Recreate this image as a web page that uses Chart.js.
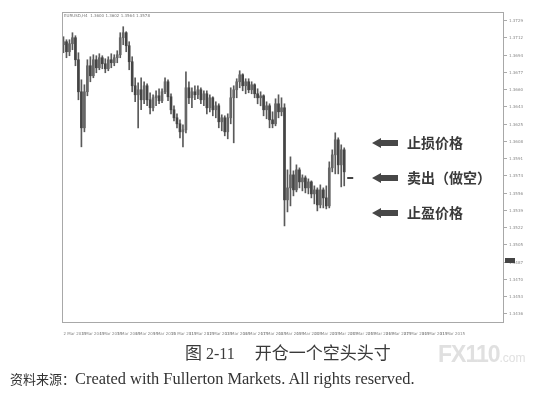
<!DOCTYPE html>
<html>
<head>
<meta charset="utf-8">
<script src="https://cdn.jsdelivr.net/npm/chart.js@4.4.1/dist/chart.umd.min.js"></script>
<style>
html, body { margin: 0; padding: 0; background: #fff; }
#wrap { position: relative; width: 552px; height: 400px; overflow: hidden; background: #fff; }
#chart { position: absolute; left: 0; top: 0; }
.caption { position: absolute; left: 185px; top: 339px; font-family: "Liberation Serif", "Noto Sans CJK SC", serif; font-size: 16px; color: #3a3a3a; white-space: nowrap; }
.caption .cn { font-family: "Noto Sans CJK SC", serif; font-size: 17px; }
.caption .gap { display: inline-block; width: 20px; }
.source { position: absolute; left: 10px; top: 369px; font-family: "Liberation Serif", serif; font-size: 16.4px; color: #333; white-space: nowrap; }
.source .cn { font-family: "Noto Sans CJK SC", serif; font-size: 13px; }
.mark { position: absolute; left: 438px; top: 341px; font-family: "Liberation Sans", Arial, sans-serif; color: #e0e0e0; white-space: nowrap; }
.mark b { font-size: 23px; font-weight: 900; letter-spacing: -1px; }
.mark span { font-size: 12px; }
</style>
</head>
<body>
<div id="wrap">
  <canvas id="chart" width="552" height="400"></canvas>
  <div class="caption"><span class="cn">图</span> 2-11<span class="gap"></span><span class="cn">开仓一个空头头寸</span></div>
  <div class="source"><span class="cn">资料来源：</span>Created with Fullerton Markets. All rights reserved.</div>
  <div class="mark"><b>FX110</b><span>.com</span></div>
</div>
<script>
// Candles (price in pips, 13600 = 1.3600)
const opens  = [13705,13708,13698,13706,13712,13690,13658,13622,13658,13684,13674,13690,13682,13692,13686,13681,13690,13687,13692,13695,
                13712,13717,13704,13688,13664,13655,13660,13650,13664,13650,13642,13652,13654,13649,13658,13668,13653,13640,13632,13626,
                13618,13620,13662,13652,13658,13655,13660,13650,13656,13642,13652,13640,13644,13628,13632,13618,13632,13652,13660,13668,
                13675,13664,13668,13660,13665,13656,13652,13654,13640,13644,13630,13626,13646,13638,13642,13550,13562,13575,13560,13580,
                13568,13572,13562,13568,13556,13560,13545,13560,13552,13544,13582,13595,13610,13585,13600];
const highs  = [13713,13710,13710,13717,13714,13697,13670,13665,13690,13693,13695,13694,13696,13694,13691,13693,13696,13695,13699,13717,
                13723,13718,13708,13693,13672,13667,13672,13668,13666,13657,13655,13659,13661,13661,13672,13670,13656,13644,13636,13630,
                13625,13678,13668,13662,13664,13664,13662,13659,13659,13655,13653,13648,13646,13635,13634,13636,13662,13664,13671,13679,
                13676,13671,13671,13668,13666,13661,13658,13655,13648,13646,13638,13651,13655,13652,13646,13580,13593,13579,13585,13582,
                13575,13574,13571,13569,13564,13562,13565,13562,13564,13588,13600,13617,13612,13605,13602];
const lows   = [13697,13692,13694,13700,13684,13650,13603,13618,13654,13668,13672,13677,13680,13681,13677,13679,13682,13684,13687,13692,
                13705,13698,13680,13658,13648,13622,13640,13646,13644,13636,13639,13644,13646,13647,13656,13649,13636,13629,13622,13612,
                13603,13617,13646,13642,13650,13651,13646,13644,13636,13638,13634,13632,13622,13619,13614,13611,13626,13607,13652,13662,
                13659,13656,13657,13656,13652,13646,13644,13634,13631,13622,13622,13624,13632,13634,13524,13538,13544,13554,13558,13562,
                13559,13557,13556,13552,13546,13539,13542,13542,13541,13542,13578,13576,13576,13563,13564];
const closes = [13708,13698,13706,13712,13690,13658,13622,13658,13684,13674,13690,13682,13692,13686,13681,13690,13687,13692,13695,13712,
                13717,13704,13688,13664,13655,13660,13650,13664,13650,13642,13652,13654,13649,13658,13668,13653,13640,13632,13626,13618,
                13620,13662,13652,13658,13655,13660,13650,13656,13642,13652,13640,13644,13628,13632,13618,13632,13652,13660,13668,13675,
                13664,13668,13660,13665,13656,13652,13654,13640,13644,13630,13626,13646,13638,13642,13550,13562,13575,13560,13580,13568,
                13572,13562,13568,13556,13560,13545,13560,13552,13544,13582,13595,13610,13585,13600,13578];

// Axis ticks
const yTickValues = [13436,13453,13470,13487,13505,13522,13539,13556,13574,13591,13608,13625,13643,13660,13677,13694,13712,13729];
const xTickLabels = ['2 Mar 2015','3 Mar 2015','4 Mar 2015','5 Mar 2015','6 Mar 2015','9 Mar 2015','10 Mar 2015','11 Mar 2015',
                     '12 Mar 2015','13 Mar 2015','16 Mar 2015','17 Mar 2015','18 Mar 2015','19 Mar 2015','20 Mar 2015','23 Mar 2015',
                     '24 Mar 2015','25 Mar 2015','26 Mar 2015','27 Mar 2015','30 Mar 2015','31 Mar 2015'];
const slotCount = 148;

// Trade levels
const levelLabels = ['止损价格', '卖出（做空）', '止盈价格'];
const levelPrices = [13607, 13572, 13537];
const axisMarker = 13490;
const headerText = 'EURUSD,H4  1.3600 1.3602 1.3564 1.3578';

const wickData = lows.map((l, i) => ({ x: i, y: [l, highs[i]] }));
const bodyData = opens.map((o, i) => ({ x: i, y: [o, closes[i]] }));

const overlay = {
  id: 'overlay',
  afterDraw(chart) {
    const ctx = chart.ctx;
    const a = chart.chartArea;
    const y = chart.scales.y;
    const x = chart.scales.x;
    ctx.save();
    // frame
    ctx.strokeStyle = '#a8a8a8';
    ctx.lineWidth = 1;
    ctx.strokeRect(a.left + 0.5, a.top + 0.5, a.right - a.left - 1, a.bottom - a.top - 1);
    // header
    ctx.fillStyle = '#777';
    ctx.font = '4px "DejaVu Sans"';
    ctx.textBaseline = 'middle';
    ctx.fillText(headerText, a.left + 2, a.top + 4);
    // arrows + labels
    levelPrices.forEach((p, k) => {
      const py = Math.round(y.getPixelForValue(p));
      ctx.fillStyle = '#474747';
      ctx.beginPath();
      ctx.moveTo(372, py);
      ctx.lineTo(381, py - 5);
      ctx.lineTo(381, py - 3);
      ctx.lineTo(398, py - 3);
      ctx.lineTo(398, py + 3);
      ctx.lineTo(381, py + 3);
      ctx.lineTo(381, py + 5);
      ctx.closePath();
      ctx.fill();
      ctx.fillStyle = '#3a3a3a';
      ctx.font = 'bold 14px "Noto Sans CJK SC"';
      ctx.fillText(levelLabels[k], 407, py);
    });
    // current price dash
    const dy = Math.round(y.getPixelForValue(levelPrices[1]));
    const dx = x.getPixelForValue(opens.length - 1);
    ctx.fillStyle = '#444';
    ctx.fillRect(dx + 3, dy - 1, 6, 2);
    // axis marker
    const my = Math.round(y.getPixelForValue(axisMarker));
    ctx.fillRect(a.right + 1, my - 2, 10, 5);
    ctx.restore();
  }
};

new Chart(document.getElementById('chart'), {
  type: 'bar',
  data: {
    datasets: [
      { data: wickData, backgroundColor: '#5a5a5a', barThickness: 1, grouped: false, order: 2 },
      { data: bodyData, barThickness: 2, grouped: false, order: 1,
        backgroundColor: c => { const i = c.dataIndex; return closes[i] >= opens[i] ? '#666' : '#444'; } }
    ]
  },
  options: {
    responsive: false,
    animation: false,
    layout: { padding: { left: 62, top: 12, right: 0, bottom: 0 } },
    plugins: { legend: { display: false }, tooltip: { enabled: false } },
    scales: {
      x: {
        type: 'linear', min: -0.5, max: slotCount - 0.5, offset: false,
        afterBuildTicks: s => { s.ticks = xTickLabels.map((t, k) => ({ value: k * 6 })); },
        afterFit: s => { s.height = 77; },
        grid: { display: false }, border: { display: false },
        ticks: { autoSkip: false, maxRotation: 0, align: 'start', padding: 1, color: '#888',
                 font: { size: 4, family: 'DejaVu Sans' }, callback: (v, i) => xTickLabels[i] }
      },
      y: {
        position: 'right', min: 13427, max: 13737.7,
        afterBuildTicks: s => { s.ticks = yTickValues.map(v => ({ value: v })); },
        afterFit: s => { s.width = 48; },
        grid: { drawOnChartArea: false, tickLength: 3, color: '#aaa' }, border: { display: false },
        ticks: { padding: 2, color: '#888', font: { size: 4, family: 'DejaVu Sans' },
                 callback: v => (v / 10000).toFixed(4) }
      }
    }
  },
  plugins: [overlay]
});
</script>
</body>
</html>
